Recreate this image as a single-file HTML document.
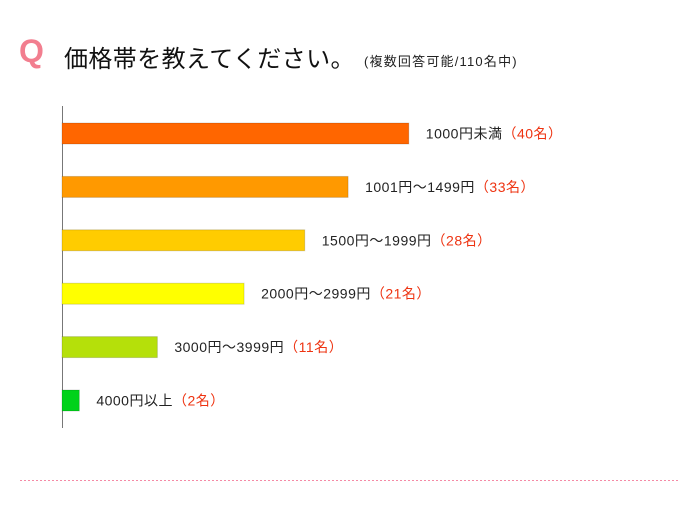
<!DOCTYPE html>
<html><head><meta charset="utf-8"><style>
body{margin:0;background:#fff;}
#c{position:relative;width:700px;height:510px;overflow:hidden;font-family:"Liberation Sans","Noto Sans CJK JP",sans-serif;}
</style></head><body>
<div id="c">
<div style="position:absolute;left:19px;top:33px;font-size:32px;color:#f27e8f;font-weight:bold;">Q</div>
<div style="position:absolute;left:64px;top:39px;font-size:24px;color:#111;white-space:nowrap;letter-spacing:0.4px;">価格帯を教えてください。</div>
<div style="position:absolute;left:364px;top:51px;font-size:13px;color:#222;white-space:nowrap;letter-spacing:1.2px;">(複数回答可能/110名中)</div>
<svg width="700" height="510" style="position:absolute;left:0;top:0">
<line x1="62.5" y1="106" x2="62.5" y2="428" stroke="#777" stroke-width="1"/>
<line x1="20" y1="480.5" x2="678" y2="480.5" stroke="#f58aa5" stroke-width="1" stroke-dasharray="2,2"/>
<g id="bars"></g>
</svg>
</div>
<script>
const categories=["1000円未満","1001円～1499円","1500円～1999円","2000円～2999円","3000円～3999円","4000円以上"];
const values=[40,33,28,21,11,2];
const colors=["#ff6600","#ff9900","#ffcc00","#ffff00","#b5e00a","#00d21a"];
const x0=62, scale=8.67, y0=123, step=53.4, bh=21;
const g=document.getElementById('bars');
const ns="http://www.w3.org/2000/svg";
values.forEach((v,i)=>{
  const y=y0+i*step, w=v*scale;
  const r=document.createElementNS(ns,'rect');
  r.setAttribute('x',x0);r.setAttribute('y',y);r.setAttribute('width',w);r.setAttribute('height',bh);
  r.setAttribute('fill',colors[i]);r.setAttribute('stroke','rgba(0,0,0,0.15)');
  
  
  g.appendChild(r);
  const t=document.createElementNS(ns,'text');
  t.setAttribute('x',x0+w+17);t.setAttribute('y',y+bh/2+5);
  t.setAttribute('font-size','14');t.setAttribute('fill','#222');
  t.setAttribute('letter-spacing','0.5');
  t.setAttribute('font-family','"Liberation Sans","Noto Sans CJK JP",sans-serif');
  
  
  t.textContent=categories[i];
  const s=document.createElementNS(ns,'tspan');
  s.setAttribute('fill','#ee3311');
  s.textContent='（'+v+'名）';
  t.appendChild(s);
  g.appendChild(t);
});
</script>
</body></html>
